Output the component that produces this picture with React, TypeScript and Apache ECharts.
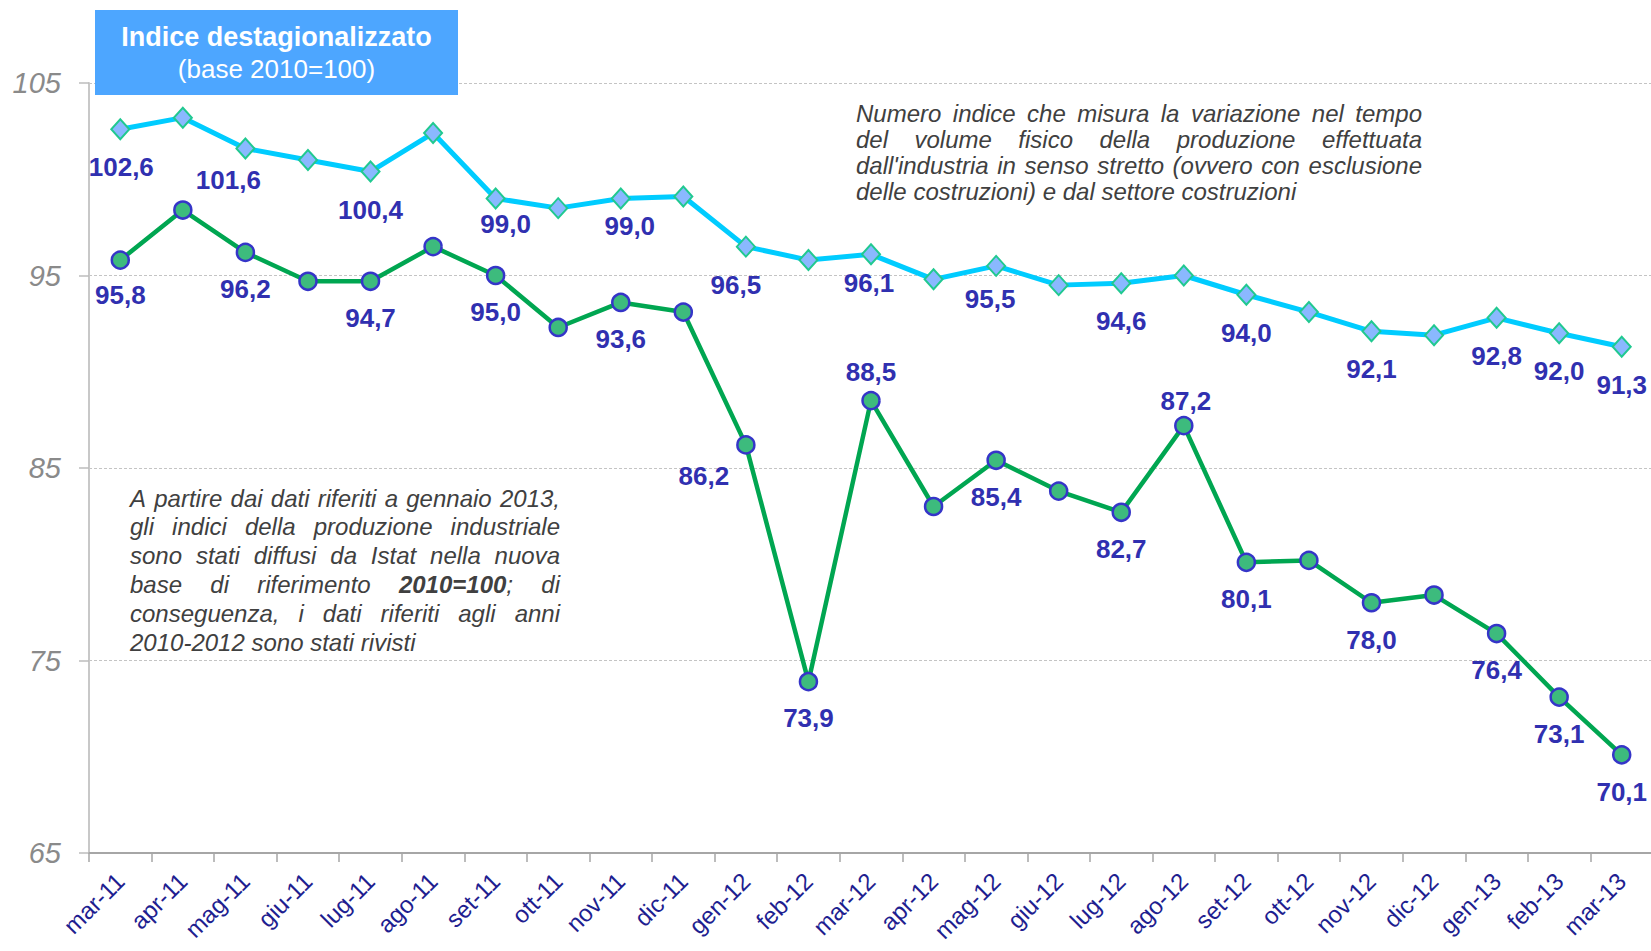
import React, { useEffect, useRef } from 'react';
import * as echarts from 'echarts';

// ---------------- DATA ----------------
const categories = [
  'mar-11', 'apr-11', 'mag-11', 'giu-11', 'lug-11', 'ago-11', 'set-11', 'ott-11', 'nov-11', 'dic-11',
  'gen-12', 'feb-12', 'mar-12', 'apr-12', 'mag-12', 'giu-12', 'lug-12', 'ago-12', 'set-12', 'ott-12',
  'nov-12', 'dic-12', 'gen-13', 'feb-13', 'mar-13',
];

// Industria in senso stretto (cyan, diamonds)
const industriaValues = [
  102.6, 103.2, 101.6, 101.0, 100.4, 102.4, 99.0, 98.5, 99.0, 99.1,
  96.5, 95.8, 96.1, 94.8, 95.5, 94.5, 94.6, 95.0, 94.0, 93.1,
  92.1, 91.9, 92.8, 92.0, 91.3,
];

// Costruzioni (green, circles)
const costruzioniValues = [
  95.8, 98.4, 96.2, 94.7, 94.7, 96.5, 95.0, 92.3, 93.6, 93.1,
  86.2, 73.9, 88.5, 83.0, 85.4, 83.8, 82.7, 87.2, 80.1, 80.2,
  78.0, 78.4, 76.4, 73.1, 70.1,
];

// indices of points whose value is written on the chart
const industriaLabelIdx = [0, 2, 4, 6, 8, 10, 12, 14, 16, 18, 20, 22, 23, 24];
const costruzioniLabelIdx = [0, 2, 4, 6, 8, 10, 11, 12, 14, 16, 17, 18, 20, 22, 23, 24];

const yMin = 65;
const yMax = 105;
const yStep = 10;

const titleLines = ['Indice destagionalizzato', '(base 2010=100)'];

const noteTopLines = [
  'Numero indice che misura la variazione nel tempo',
  'del volume fisico della produzione effettuata',
  "dall'industria in senso stretto (ovvero con esclusione",
  'delle costruzioni) e dal settore costruzioni',
];

const noteLeftLines = [
  'A partire dai dati riferiti a gennaio 2013,',
  'gli indici della produzione industriale',
  'sono stati diffusi da Istat nella nuova',
  'base di riferimento **2010=100**; di',
  'conseguenza, i dati riferiti agli anni',
  '2010-2012 sono stati rivisti',
];

// ---------------- STYLE / PLACEMENT ----------------
const FONT = '"Liberation Sans", Arial, sans-serif';
const LABEL_COLOR = '#3030B0';

const indLabelTweaks: Record<number, any> = {
  0: { offset: [1, 0] },
  2: { offset: [-17, -7] },
  6: { offset: [10, -13] },
  8: { offset: [9, -11] },
  10: { offset: [-10, 0] },
  12: { offset: [-2, -9] },
  14: { offset: [-6, -5] },
};
const cosLabelTweaks: Record<number, any> = {
  0: { offset: [0, -2] },
  10: { offset: [-42, -6] },
  12: { position: 'top', distance: 6 },
  17: { position: 'top', distance: 2, offset: [2, 0] },
};

let measureCtx: CanvasRenderingContext2D | null = null;
function measure(text: string, font: string): number {
  if (!measureCtx) measureCtx = document.createElement('canvas').getContext('2d');
  measureCtx!.font = font;
  return measureCtx!.measureText(text).width;
}

function fontStr(bold: boolean, size: number) {
  return `italic ${bold ? 'bold ' : ''}${size}px "Liberation Sans"`;
}

// builds justified paragraph as graphic text elements (last line left aligned)
function justified(lines: string[], x0: number, width: number, yc0: number, lh: number, size: number, color: string) {
  const els: any[] = [];
  let bold = false;
  lines.forEach((line, li) => {
    const words = line.split(' ');
    const wordRuns = words.map((w) => {
      const parts = w.split('**');
      const runs: { t: string; b: boolean; w: number }[] = [];
      parts.forEach((p, pi) => {
        if (pi > 0) bold = !bold;
        if (p.length) runs.push({ t: p, b: bold, w: measure(p, fontStr(bold, size)) });
      });
      return runs;
    });
    const wordWidths = wordRuns.map((rs) => rs.reduce((s, r) => s + r.w, 0));
    const total = wordWidths.reduce((s, v) => s + v, 0);
    const isLast = li === lines.length - 1;
    const gap = isLast || words.length < 2 ? measure(' ', fontStr(false, size)) : (width - total) / (words.length - 1);
    let cx = x0;
    const y = yc0 + li * lh;
    wordRuns.forEach((rs) => {
      rs.forEach((r) => {
        els.push({
          type: 'text',
          x: cx,
          y,
          z: 100,
          style: {
            text: r.t,
            font: fontStr(r.b, size),
            fill: color,
            align: 'left',
            verticalAlign: 'middle',
          },
        });
        cx += r.w;
      });
      cx += gap;
    });
  });
  return els;
}

function fmt(v: number) {
  return v.toFixed(1).replace('.', ',');
}

function buildData(values: number[], labelIdx: number[], tweaks: Record<number, any>) {
  return values.map((v, i) => ({
    value: v,
    label: labelIdx.includes(i) ? { show: true, ...(tweaks[i] || {}) } : { show: false },
  }));
}

export default function App() {
  const ref = useRef<HTMLDivElement>(null);

  useEffect(() => {
    const chart = echarts.init(ref.current!, null, { renderer: 'svg' });

    const labelBase = {
      show: false,
      position: 'bottom',
      distance: 14,
      fontSize: 26,
      fontWeight: 'bold',
      fontFamily: FONT,
      color: LABEL_COLOR,
      formatter: (p: any) => fmt(Number(p.value)),
    };

    const graphics: any[] = [
      {
        type: 'rect',
        z: 100,
        shape: { x: 95, y: 10, width: 363, height: 85 },
        style: { fill: '#4DA6FF' },
      },
      {
        type: 'text',
        z: 101,
        x: 276.5,
        y: 37,
        style: {
          text: titleLines[0],
          font: `bold 27px "Liberation Sans"`,
          fill: '#ffffff',
          align: 'center',
          verticalAlign: 'middle',
        },
      },
      {
        type: 'text',
        z: 101,
        x: 276.5,
        y: 69,
        style: {
          text: titleLines[1],
          font: `26px "Liberation Sans"`,
          fill: '#ffffff',
          align: 'center',
          verticalAlign: 'middle',
        },
      },
      ...justified(noteTopLines, 856, 566, 113, 26.3, 24, '#404040'),
      ...justified(noteLeftLines, 130, 430, 498, 28.8, 24, '#404040'),
    ];

    chart.setOption({
      animation: false,
      backgroundColor: '#ffffff',
      grid: {
        left: 89,
        top: 83,
        width: 1564,
        height: 770,
        containLabel: false,
        outerBoundsMode: 'none',
      },
      xAxis: {
        type: 'category',
        data: categories,
        boundaryGap: true,
        axisLine: { show: true, lineStyle: { color: '#a6a6a6', width: 2 } },
        axisTick: { show: true, alignWithLabel: false, interval: 0, length: 9, lineStyle: { color: '#a6a6a6', width: 1.5 } },
        axisLabel: {
          interval: 0,
          rotate: 45,
          margin: 24,
          fontSize: 24,
          fontFamily: FONT,
          color: '#1E1E90',
        },
        splitLine: { show: false },
      },
      yAxis: {
        type: 'value',
        min: yMin,
        max: yMax,
        interval: yStep,
        axisLine: { show: true, lineStyle: { color: '#c8c8c8', width: 2 } },
        axisTick: { show: true, length: 10, lineStyle: { color: '#bdbdbd', width: 1.5 } },
        axisLabel: {
          margin: 28,
          fontSize: 29,
          fontStyle: 'italic',
          fontFamily: FONT,
          color: '#8a8a8a',
        },
        splitLine: { show: true, lineStyle: { color: '#c4c4c4', width: 1, type: [3, 2] } },
      },
      series: [
        {
          name: 'Industria in senso stretto',
          type: 'line',
          data: buildData(industriaValues, industriaLabelIdx, indLabelTweaks),
          symbol: 'diamond',
          symbolSize: [18, 20],
          showAllSymbol: true,
          lineStyle: { color: '#00CCFF', width: 5 },
          itemStyle: { color: '#8AB8FF', borderColor: '#20C990', borderWidth: 2 },
          label: labelBase,
          z: 3,
        },
        {
          name: 'Costruzioni',
          type: 'line',
          data: buildData(costruzioniValues, costruzioniLabelIdx, cosLabelTweaks),
          symbol: 'circle',
          symbolSize: 17,
          showAllSymbol: true,
          lineStyle: { color: '#00A651', width: 4.5 },
          itemStyle: { color: '#3DBB7D', borderColor: '#3535C8', borderWidth: 2.5 },
          label: labelBase,
          z: 4,
        },
      ],
      graphic: graphics,
    });

    return () => chart.dispose();
  }, []);

  return (
    <div
      ref={ref}
      style={{ position: 'fixed', left: 0, top: 0, width: 1651, height: 951, background: '#fff' }}
    />
  );
}
